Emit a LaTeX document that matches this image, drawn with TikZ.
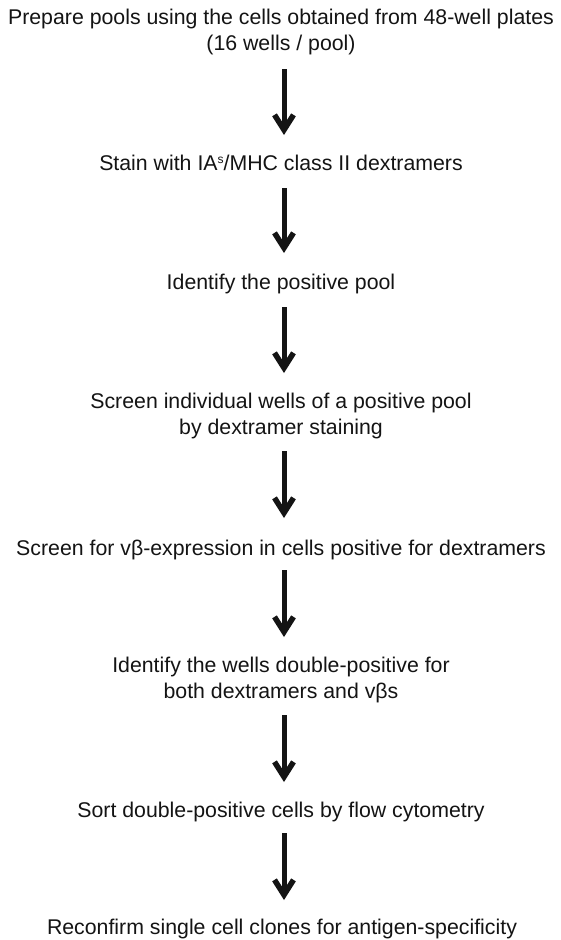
\documentclass[tikz,border=0pt]{standalone}
\usepackage{fontspec}
\setmainfont{Liberation Sans}
\usetikzlibrary{arrows.meta}

\tikzset{
  stepnode/.style={inner sep=0pt, align=center,
    font=\fontsize{21.3pt}{25.5pt}\selectfont, text=black!92},
  flow/.style={line width=5pt, draw=black!92,
    -{Straight Barb[length=15pt, width=19pt, line width=5.5pt]}},
}
% small raised letter used in the allele name
\newcommand{\allele}[1]{\raisebox{0.62ex}{\fontsize{12pt}{12pt}\selectfont #1}}

\begin{document}
\begin{tikzpicture}[x=1pt, y=-1pt]
  % canvas
  \useasboundingbox (0,0) rectangle (561,940);
  \fill[white] (0,0) rectangle (561,940);

  % x position of the arrow column
  \coordinate (ax) at (284,0);

  % steps
  \node[stepnode] (s1) at (281,32) {Prepare pools using the cells obtained from 48-well plates\\(16 wells / pool)};
  \node[stepnode] (s2) at (281,163) {Stain with IA\allele{s}/MHC class II dextramers};
  \node[stepnode] (s3) at (281,284) {Identify the positive pool};
  \node[stepnode] (s4) at (281,416) {Screen individual wells of a positive pool\\by dextramer staining};
  \node[stepnode] (s5) at (281,550) {Screen for vβ-expression in cells positive for dextramers};
  \node[stepnode] (s6) at (281,680) {Identify the wells double-positive for\\both dextramers and vβs};
  \node[stepnode] (s7) at (281,812) {Sort double-positive cells by flow cytometry};
  \node[stepnode] (s8) at (282,929) {Reconfirm single cell clones for antigen-specificity};

  % connectors between consecutive steps
  \draw[flow, shorten <=37pt, shorten >=28pt] (s1.center -| ax) -- (s2.center -| ax);
  \draw[flow, shorten <=25pt, shorten >=31pt] (s2.center -| ax) -- (s3.center -| ax);
  \draw[flow, shorten <=23pt, shorten >=43pt] (s3.center -| ax) -- (s4.center -| ax);
  \draw[flow, shorten <=35pt, shorten >=32pt] (s4.center -| ax) -- (s5.center -| ax);
  \draw[flow, shorten <=20pt, shorten >=43pt] (s5.center -| ax) -- (s6.center -| ax);
  \draw[flow, shorten <=35pt, shorten >=30pt] (s6.center -| ax) -- (s7.center -| ax);
  \draw[flow, shorten <=21pt, shorten >=29pt] (s7.center -| ax) -- (s8.center -| ax);
\end{tikzpicture}
\end{document}
